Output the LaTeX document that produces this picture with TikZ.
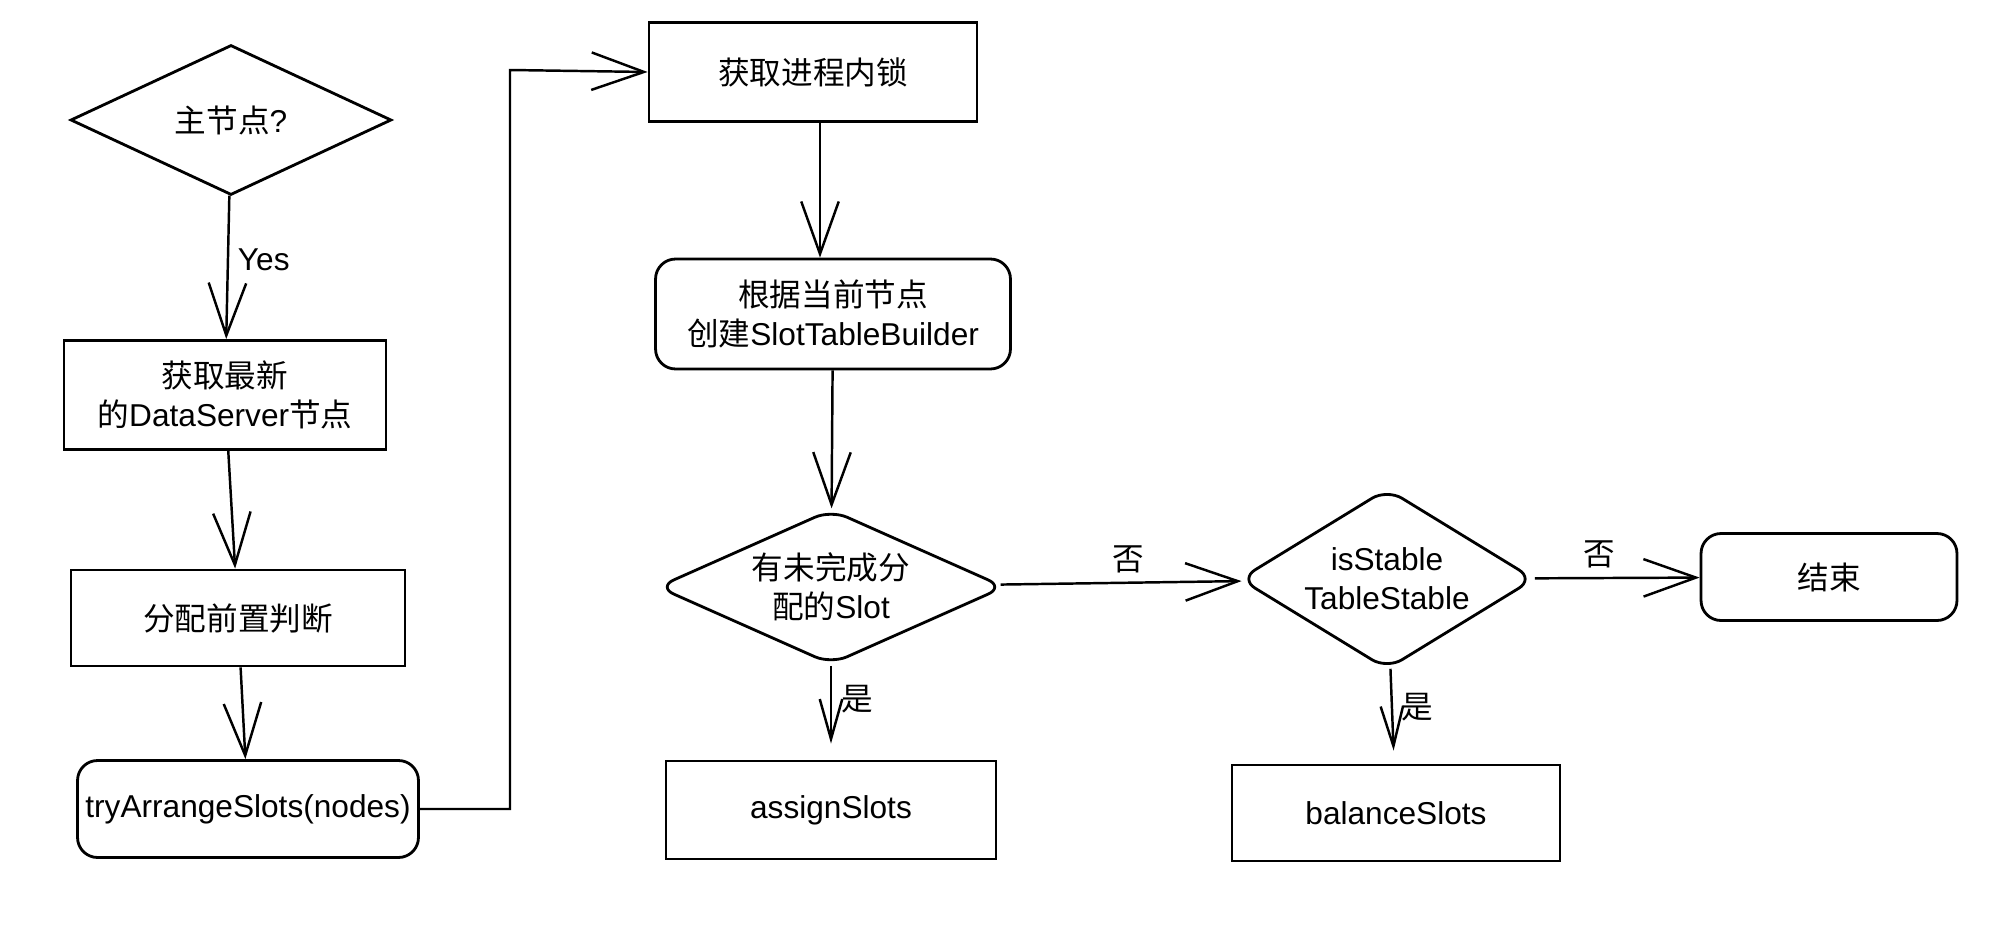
\documentclass[tikz,border=0pt]{standalone}
\usepackage{fontspec}
\setmainfont{Liberation Sans}
\newfontfamily\cjk{Noto Sans CJK SC}
\usetikzlibrary{shapes.geometric,arrows.meta}

\begin{document}
\begin{tikzpicture}[x=0.02cm, y=-0.02cm,
    font=\fontsize{18pt}{22pt}\selectfont,
    procbox/.style={rectangle, draw, line width=1.6pt, align=center, inner sep=0pt},
    roundbox/.style={procbox, rounded corners=0.4cm},
    decision/.style={diamond, draw, line width=1.6pt, align=center, inner sep=0pt},
    flow/.style={-{Straight Barb[length=1.05cm, width=0.75cm]}, line width=1.4pt},
    branch/.style={-{Straight Barb[length=0.8cm, width=0.45cm]}, line width=1.4pt},
    lbl/.style={inner sep=5pt}]
    \useasboundingbox (0,0) rectangle (2016,936);

    % left column
    \node (master) [decision, minimum width=6.42cm, minimum height=3cm, aspect=2.1] at (231,120) {{\cjk 主节点}?};
    \node (latest) [procbox, minimum width=6.44cm, minimum height=2.18cm] at (225,395) {{\cjk 获取最新}\\{\cjk 的}DataServer{\cjk 节点}};
    \node (precheck) [procbox, minimum width=6.68cm, minimum height=1.92cm] at (238,618) {\cjk 分配前置判断};
    \node (arrange) [roundbox, minimum width=6.82cm, minimum height=1.94cm] at (248,809) {tryArrangeSlots(nodes)};

    % middle column
    \node (lock) [procbox, minimum width=6.56cm, minimum height=1.98cm] at (813,72) {\cjk 获取进程内锁};
    \node (builder) [roundbox, minimum width=7.1cm, minimum height=2.2cm] at (833,314) {{\cjk 根据当前节点}\\{\cjk 创建}SlotTableBuilder};
    \node (pending) [decision, rounded corners=0.35cm, minimum width=6.95cm, minimum height=3.1cm, aspect=2.2] at (831,587) {{\cjk 有未完成分}\\{\cjk 配的}Slot};
    \node (assign) [procbox, minimum width=6.6cm, minimum height=1.96cm] at (831,810) {assignSlots};

    % right part
    \node (stable) [decision, rounded corners=0.35cm, minimum width=5.9cm, minimum height=3.62cm, aspect=1.6] at (1387,579) {isStable\\TableStable};
    \node (done) [roundbox, minimum width=5.12cm, minimum height=1.74cm] at (1829,577) {\cjk 结束};
    \node (balance) [procbox, minimum width=6.56cm, minimum height=1.92cm] at (1396,813) {balanceSlots};

    % connectors
    \draw[flow] (master) -- (latest) node[pos=0.45, right, lbl] {Yes};
    \draw[flow] (latest) -- (precheck);
    \draw[flow] (precheck) -- (arrange);
    \coordinate (bend) at (510,70);
    \draw[flow] (arrange.east) -| (bend) -- (lock.west);
    \draw[flow] ([xshift=0.14cm]lock.south) -- ([xshift=0.14cm]lock.south |- builder.north);
    \draw[flow] (builder) -- (pending);
    \draw[branch, shorten >=0.32cm] (pending) -- (assign) node[pos=0.35, right, lbl] {\cjk 是};
    \draw[flow] (pending) -- (stable) node[pos=0.53, above, lbl] {\cjk 否};
    \draw[branch, shorten >=0.26cm] (stable) -- (balance) node[pos=0.4, right, lbl] {\cjk 是};
    \draw[flow] (stable) -- (done) node[pos=0.39, above, lbl] {\cjk 否};
\end{tikzpicture}
\end{document}
